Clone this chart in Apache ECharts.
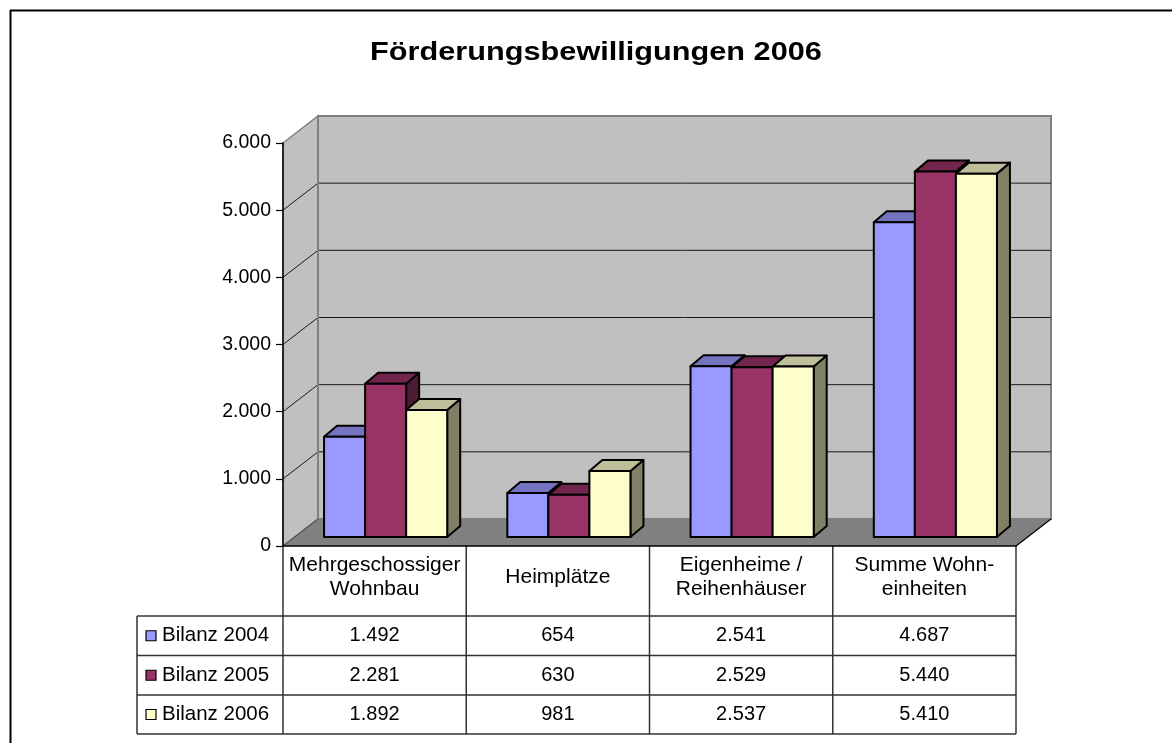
<!DOCTYPE html>
<html>
<head>
<meta charset="utf-8">
<script src="https://cdn.jsdelivr.net/npm/echarts@6/dist/echarts.min.js"></script>
<style>
  html, body { margin: 0; padding: 0; background: #fff; }
  #main { width: 1172px; height: 743px; }
</style>
</head>
<body>
<div id="main"></div>
<script>
// Daten
var categories = ['Mehrgeschossiger\nWohnbau', 'Heimplätze', 'Eigenheime /\nReihenhäuser', 'Summe Wohn-\neinheiten'];
var seriesNames = ['Bilanz 2004', 'Bilanz 2005', 'Bilanz 2006'];
var bilanz2004 = [1492, 654, 2541, 4687];
var bilanz2005 = [2281, 630, 2529, 5440];
var bilanz2006 = [1892, 981, 2537, 5410];
var yTicks = [0, 1000, 2000, 3000, 4000, 5000, 6000];

var allValues = [bilanz2004, bilanz2005, bilanz2006];
var faceColors = ['#9999FF', '#993366', '#FFFFCC'];
var topColors = ['#7373BF', '#73264D', '#BFBF99'];
var sideColors = ['#4D4D80', '#4D1A33', '#808066'];

var FONT = 'Liberation Sans, Arial, sans-serif';
var DX = 35, DY = -27;      // Tiefe der Wände
var BX = 11, BY = -9;       // Lage der Balkenfront
var BDX = 13, BDY = -11;    // Balkentiefe

function fmt(v) {
    if (v < 1000) return String(v);
    return Math.floor(v / 1000) + '.' + String(v % 1000).padStart(3, '0');
}

var myChart = echarts.init(document.getElementById('main'));

// Wände, Boden und Gitterlinien
function renderWalls(params, api) {
    var cs = params.coordSys;
    var x0 = cs.x, x1 = cs.x + cs.width;
    var yb = api.coord([0, 0])[1];
    var yt = api.coord([0, yTicks[yTicks.length - 1]])[1];
    var children = [];
    children.push({ type: 'polygon', shape: { points: [[x0, yt], [x0 + DX, yt + DY], [x0 + DX, yb + DY], [x0, yb]] },
        style: { fill: '#C0C0C0', stroke: '#808080', lineWidth: 1.5 } });
    children.push({ type: 'rect', shape: { x: x0 + DX, y: yt + DY, width: x1 - x0, height: yb - yt },
        style: { fill: '#C0C0C0', stroke: '#808080', lineWidth: 2 } });
    children.push({ type: 'polygon', shape: { points: [[x0, yb], [x1, yb], [x1 + DX, yb + DY], [x0 + DX, yb + DY]] },
        style: { fill: '#808080', stroke: null } });
    children.push({ type: 'line', shape: { x1: x1, y1: yb, x2: x1 + DX, y2: yb + DY },
        style: { stroke: '#000', lineWidth: 1.2 } });
    children.push({ type: 'line', shape: { x1: x0, y1: yb, x2: x0 + DX, y2: yb + DY },
        style: { stroke: '#555', lineWidth: 1.2 } });
    for (var i = 1; i < yTicks.length - 1; i++) {
        var y = api.coord([0, yTicks[i]])[1];
        children.push({ type: 'line', shape: { x1: x0 + DX, y1: y + DY, x2: x1 + DX, y2: y + DY },
            style: { stroke: '#1a1a1a', lineWidth: 1 } });
        children.push({ type: 'line', shape: { x1: x0, y1: y, x2: x0 + DX, y2: y + DY },
            style: { stroke: '#1a1a1a', lineWidth: 1 } });
    }
    children.push({ type: 'line', shape: { x1: x0 + DX, y1: yt + DY, x2: x0 + DX, y2: yb + DY },
        style: { stroke: '#808080', lineWidth: 2 } });
    return { type: 'group', children: children };
}

function makeBarRenderer(k) {
    return function (params, api) {
        var cat = api.value(0);
        var val = api.value(1);
        var catW = api.size([1, 0])[0];
        var bw = catW * 0.224;
        var cx = api.coord([cat, 0])[0];
        var xa = cx + BX - 1.5 * bw + k * bw;
        var xb = xa + bw;
        var yTop = api.coord([cat, val])[1] + BY;
        var yBot = api.coord([cat, 0])[1] + BY;
        var st = { stroke: '#000', lineWidth: 2, lineJoin: 'round' };
        return {
            type: 'group',
            children: [
                { type: 'polygon', shape: { points: [[xb, yTop], [xb + BDX, yTop + BDY], [xb + BDX, yBot + BDY], [xb, yBot]] },
                  style: Object.assign({ fill: sideColors[k] }, st) },
                { type: 'polygon', shape: { points: [[xa, yTop], [xb, yTop], [xb + BDX, yTop + BDY], [xa + BDX, yTop + BDY]] },
                  style: Object.assign({ fill: topColors[k] }, st) },
                { type: 'rect', shape: { x: xa, y: yTop, width: bw, height: yBot - yTop },
                  style: Object.assign({ fill: faceColors[k] }, st) }
            ]
        };
    };
}

var series = [{
    type: 'custom',
    name: 'walls',
    renderItem: renderWalls,
    data: [[0, 0]],
    clip: false,
    silent: true,
    z: 1
}];
allValues.forEach(function (vals, k) {
    series.push({
        type: 'custom',
        name: seriesNames[k],
        renderItem: makeBarRenderer(k),
        data: vals.map(function (v, i) { return [i, v]; }),
        clip: false,
        z: 2
    });
});

// Tabelle unter dem Diagramm
var colX = [283, 466.25, 649.5, 832.75, 1016];
var rowY = [546, 616, 655.5, 695, 734];
var legendX = 137;
var lineStyle = { stroke: '#333', lineWidth: 1.5 };
var graphic = [];
graphic.push({ type: 'line', shape: { x1: 10.5, y1: 10, x2: 10.5, y2: 743 }, style: { stroke: '#000', lineWidth: 2 } });
graphic.push({ type: 'line', shape: { x1: 10, y1: 10.5, x2: 1172, y2: 10.5 }, style: { stroke: '#000', lineWidth: 2 } });
graphic.push({ type: 'text', x: 596, y: 53, scaleX: 1.18,
    style: { text: 'Förderungsbewilligungen 2006', font: 'bold 26px ' + FONT, fill: '#000', textAlign: 'center', textVerticalAlign: 'middle' } });

for (var r = 1; r < rowY.length; r++) {
    graphic.push({ type: 'line', shape: { x1: legendX, y1: rowY[r], x2: colX[colX.length - 1], y2: rowY[r] }, style: lineStyle });
}
colX.forEach(function (x) {
    graphic.push({ type: 'line', shape: { x1: x, y1: rowY[0], x2: x, y2: rowY[rowY.length - 1] }, style: lineStyle });
});
graphic.push({ type: 'line', shape: { x1: legendX, y1: rowY[1], x2: legendX, y2: rowY[rowY.length - 1] }, style: lineStyle });

categories.forEach(function (c, i) {
    graphic.push({ type: 'text', x: (colX[i] + colX[i + 1]) / 2, y: 577,
        style: { text: c, font: '21px ' + FONT, fill: '#000', textAlign: 'center', textVerticalAlign: 'middle', lineHeight: 24 } });
});
seriesNames.forEach(function (name, k) {
    var cy = (rowY[k + 1] + rowY[k + 2]) / 2;
    graphic.push({ type: 'rect', shape: { x: 146, y: cy - 5, width: 10, height: 10 },
        style: { fill: faceColors[k], stroke: '#000', lineWidth: 1.2 } });
    graphic.push({ type: 'text', x: 162, y: cy,
        style: { text: name, font: '20.5px ' + FONT, fill: '#000', textAlign: 'left', textVerticalAlign: 'middle' } });
    allValues[k].forEach(function (v, i) {
        graphic.push({ type: 'text', x: (colX[i] + colX[i + 1]) / 2, y: cy,
            style: { text: fmt(v), font: '20px ' + FONT, fill: '#000', textAlign: 'center', textVerticalAlign: 'middle' } });
    });
});

var option = {
    animation: false,
    backgroundColor: '#fff',
    grid: { left: 283, top: 143, width: 733, height: 403 },
    xAxis: {
        type: 'category',
        data: categories,
        axisLabel: { show: false },
        axisTick: { show: false },
        axisLine: { show: true, lineStyle: { color: '#000', width: 1.5 } },
        z: 5
    },
    yAxis: {
        type: 'value',
        min: 0,
        max: 6000,
        interval: 1000,
        axisLine: { show: true, lineStyle: { color: '#000', width: 1.5 } },
        axisTick: { show: true, length: 7, lineStyle: { color: '#000', width: 1.2 } },
        axisLabel: { formatter: fmt, color: '#000', fontSize: 19.5, fontFamily: FONT, margin: 12 },
        splitLine: { show: false },
        z: 5
    },
    series: series,
    graphic: graphic
};
myChart.setOption(option);
window.onresize = myChart.resize;
</script>
</body>
</html>
